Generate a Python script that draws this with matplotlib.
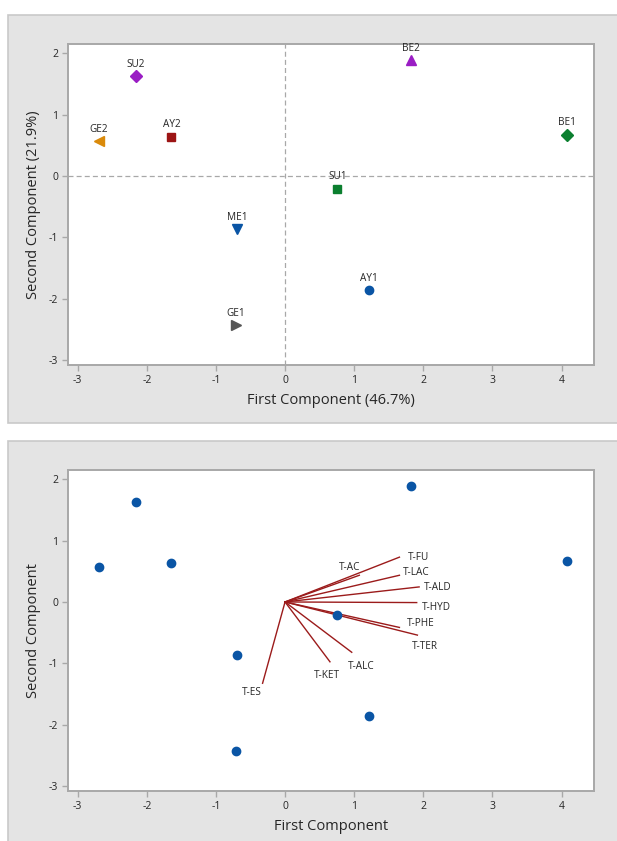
import matplotlib
matplotlib.use("Agg")
import matplotlib.pyplot as plt
from matplotlib.patches import Rectangle

plt.rcParams['font.family'] = ['Open Sans', 'DejaVu Sans']
plt.rcParams['axes.unicode_minus'] = False

# ---- data ----
obs_names = ["SU2", "GE2", "AY2", "BE2", "BE1", "SU1", "ME1", "GE1", "AY1"]
pc1 = [-2.16, -2.69, -1.645, 1.82, 4.08, 0.755, -0.69, -0.71, 1.22]
pc2 = [1.63, 0.565, 0.64, 1.89, 0.675, -0.205, -0.865, -2.43, -1.855]

var_names = ["T-FU", "T-AC", "T-LAC", "T-ALD", "T-HYD", "T-PHE", "T-TER", "T-ALC", "T-KET", "T-ES"]
load1 = [1.655, 1.075, 1.655, 1.94, 1.905, 1.655, 1.915, 0.965, 0.65, -0.325]
load2 = [0.73, 0.435, 0.435, 0.245, -0.01, -0.415, -0.54, -0.82, -0.975, -1.325]

x_ticks = [-3, -2, -1, 0, 1, 2, 3, 4]
y_ticks = [-3, -2, -1, 0, 1, 2]

# ---- styles ----
obs_markers = ["D", "<", "s", "^", "D", "s", "v", ">", "o"]
obs_colors = ["#9A1DC4", "#DA8A0A", "#9C1414", "#9A1DC4", "#0B7F2F", "#0B7F2F", "#0A55A5", "#555555", "#0A55A5"]
marker_sizes = {"D": 5.8, "<": 6.5, ">": 6.5, "^": 6.5, "v": 6.5, "s": 5.5, "o": 6}
# label offsets for loading labels (pixels, dx right, dy down)
lab_off = [(19, 0), (-10, -8), (17, -3), (19, 1), (20, 5), (21, -4), (7, 11), (9, 14), (-3, 14), (-11, 9)]

W, H = 617, 841
fig = plt.figure(figsize=(W / 100, H / 100), dpi=100)

bg = "#E4E4E4"
edge = "#C9C9C9"
fig.patches.append(Rectangle((8 / W, 1 - 423 / H), 1.0, 408 / H, transform=fig.transFigure,
                             facecolor=bg, edgecolor=edge, linewidth=1.2, zorder=-5))
fig.patches.append(Rectangle((8 / W, -0.01), 1.0, 1 - 441 / H + 0.01, transform=fig.transFigure,
                             facecolor=bg, edgecolor=edge, linewidth=1.2, zorder=-5))

ax_left = 68 / W
ax_w = (594 - 68) / W
ax_h = (365 - 44) / H
ax1 = fig.add_axes([ax_left, 1 - 365 / H, ax_w, ax_h])
ax2 = fig.add_axes([ax_left, 1 - 791 / H, ax_w, ax_h])

text_col = "#262626"
spine_col = "#A8A8A8"


def style(ax):
    ax.set_xlim(-3.14, 4.47)
    ax.set_ylim(-3.08, 2.15)
    ax.set_xticks(x_ticks)
    ax.set_yticks(y_ticks)
    ax.set_facecolor("white")
    for s in ax.spines.values():
        s.set_color(spine_col)
        s.set_linewidth(1.4)
    ax.tick_params(direction="out", length=4, width=1, color=spine_col,
                   labelsize=7.5, labelcolor=text_col, pad=3)


# ---- top: score plot ----
style(ax1)
ax1.axhline(0, color="#A8A8A8", linestyle=(0, (4, 2.5)), linewidth=0.9, zorder=1)
ax1.axvline(0, color="#A8A8A8", linestyle=(0, (4, 2.5)), linewidth=0.9, zorder=1)
for n, x, y, m, c in zip(obs_names, pc1, pc2, obs_markers, obs_colors):
    ax1.plot(x, y, marker=m, color=c, markersize=marker_sizes[m], linestyle="none", zorder=3)
    ax1.annotate(n, (x, y), xytext=(0, 8.5), textcoords="offset points",
                 ha="center", va="center", fontsize=7.2, color=text_col)
ax1.set_xlabel("First Component (46.7%)", fontsize=10.5, color=text_col, labelpad=5)
ax1.set_ylabel("Second Component (21.9%)", fontsize=10.5, color=text_col, labelpad=6)

# ---- bottom: biplot ----
style(ax2)
ax2.plot(pc1, pc2, marker="o", color="#0A55A5", markersize=6, linestyle="none", zorder=3)
for n, lx, ly, (dx, dy) in zip(var_names, load1, load2, lab_off):
    ax2.plot([0, lx], [0, ly], color="#9B1B1B", linewidth=1.0, zorder=2)
    ax2.annotate(n, (lx, ly), xytext=(dx * 0.72, -dy * 0.72), textcoords="offset points",
                 ha="center", va="center", fontsize=7.2, color=text_col)
ax2.set_xlabel("First Component", fontsize=10.5, color=text_col, labelpad=5)
ax2.set_ylabel("Second Component", fontsize=10.5, color=text_col, labelpad=6)

fig.savefig("out.png", dpi=100)
